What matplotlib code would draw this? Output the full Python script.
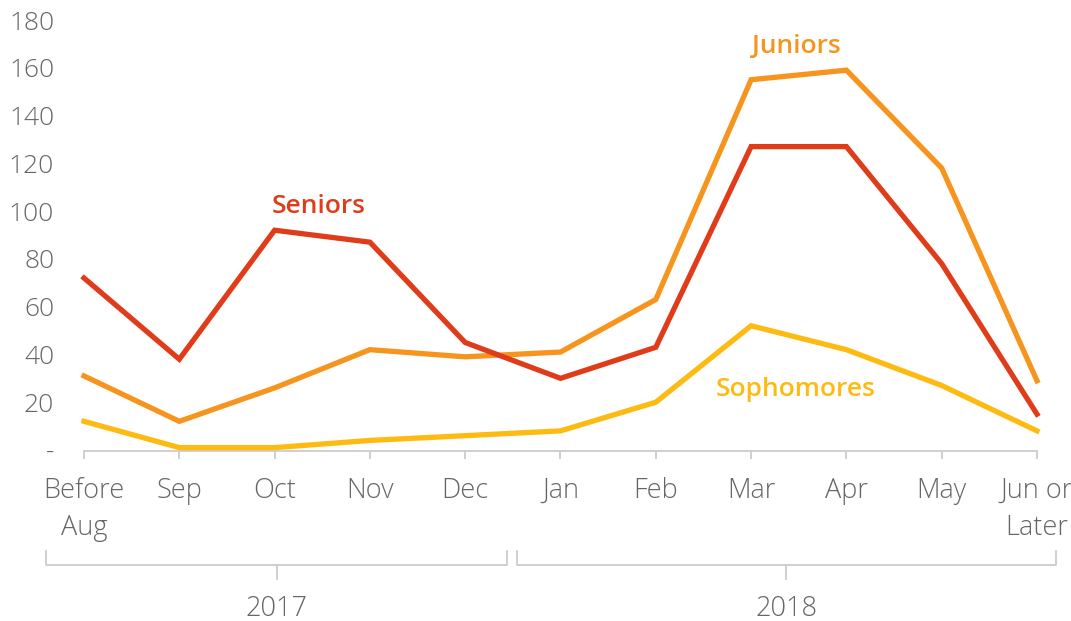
import matplotlib
matplotlib.use("Agg")
import matplotlib.pyplot as plt
from matplotlib.transforms import blended_transform_factory

months = ["Before\nAug", "Sep", "Oct", "Nov", "Dec", "Jan", "Feb", "Mar", "Apr", "May", "Jun or\nLater"]
seniors = [72, 38, 92, 87, 45, 30, 43, 127, 127, 78, 15]
juniors = [31, 12, 26, 42, 39, 41, 63, 155, 159, 118, 29]
sophomores = [12, 1, 1, 4, 6, 8, 20, 52, 42, 27, 8]
yticks = [0, 20, 40, 60, 80, 100, 120, 140, 160, 180]
ytick_labels = ["-", "20", "40", "60", "80", "100", "120", "140", "160", "180"]
years = ["2017", "2018"]
year_spans = [(-0.40, 4.44), (4.54, 10.2)]

c_sen = "#E03C1A"
c_jun = "#F7941D"
c_sop = "#FDBB12"
gray = "#666666"
lgray = "#CCCCCC"

plt.rcParams['font.family'] = ['Open Sans', 'DejaVu Sans']

W, H = 1071, 621
fig = plt.figure(figsize=(W / 100, H / 100), dpi=100)
ax = fig.add_axes([84 / W, 1 - 450 / H, (1037 - 84) / W, (450 - 20) / H])

x = list(range(len(months)))
ax.plot(x, sophomores, color=c_sop, lw=3.8, clip_on=False, solid_joinstyle='miter', zorder=3)
ax.plot(x, juniors, color=c_jun, lw=3.8, clip_on=False, solid_joinstyle='miter', zorder=4)
ax.plot(x, seniors, color=c_sen, lw=3.8, clip_on=False, solid_joinstyle='miter', zorder=5)

ax.set_xlim(0, 10)
ax.set_ylim(0, 180)
for s in ["top", "right", "left"]:
    ax.spines[s].set_visible(False)
ax.spines["bottom"].set_color(lgray)
ax.spines["bottom"].set_linewidth(1.3)
ax.spines["bottom"].set_position(("outward", 1))

fs = 19.5
ax.set_yticks(yticks)
ax.set_yticklabels(ytick_labels)
ax.tick_params(axis="y", length=0, pad=21.5, labelsize=19, labelcolor=gray)
for t in ax.get_yticklabels():
    t.set_fontweight("light")

ax.set_xticks(x)
ax.set_xticklabels(months, linespacing=1.42)
ax.tick_params(axis="x", length=6, width=1.3, color=lgray, pad=12.5, labelsize=fs, labelcolor=gray)
for t in ax.get_xticklabels():
    t.set_fontweight("light")

# series labels
ax.text(2.46, 101.8, "Seniors", color=c_sen, fontsize=19, fontweight="semibold", ha="center", va="center")
ax.text(7.47, 168.8, "Juniors", color=c_jun, fontsize=19, fontweight="semibold", ha="center", va="center")
ax.text(7.47, 25.2, "Sophomores", color=c_sop, fontsize=19, fontweight="semibold", ha="center", va="center")

# year brackets
tr = blended_transform_factory(ax.transData, fig.transFigure)
def fy(py):
    return 1 - py / H
for (x0, x1), yr in zip(year_spans, years):
    xm = (x0 + x1) / 2
    ax.plot([x0, x0, x1, x1], [fy(551), fy(565), fy(565), fy(551)], transform=tr,
            color=lgray, lw=1.3, clip_on=False, solid_joinstyle='round')
    ax.plot([xm, xm], [fy(565), fy(579)], transform=tr, color=lgray, lw=1.3, clip_on=False)
    ax.text(xm, fy(609), yr, transform=tr, ha="center", va="center", fontsize=fs,
            color=gray, fontweight="light")

fig.savefig("out.png", dpi=100)
